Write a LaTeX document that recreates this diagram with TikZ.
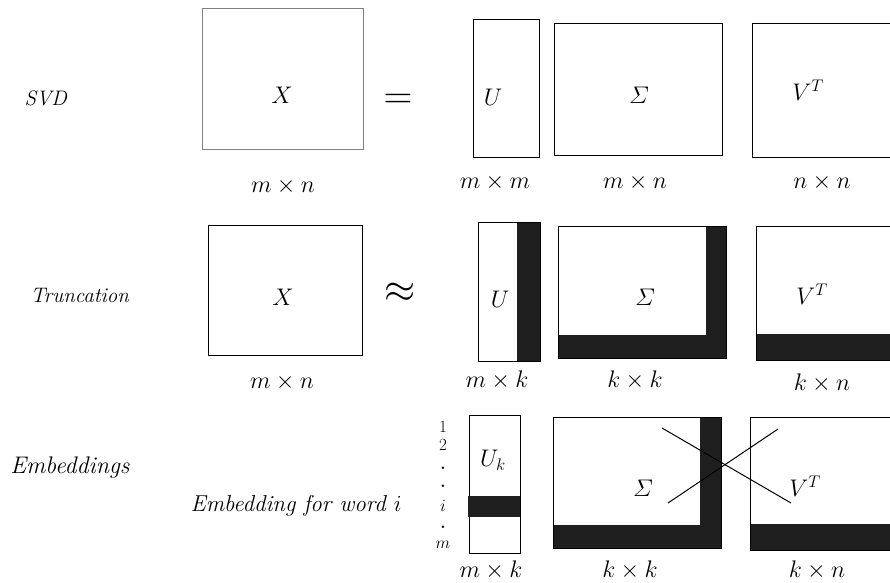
\RequirePackage{fix-cm}
\documentclass[tikz,border=0pt]{standalone}
\usepackage{amsmath}
\begin{document}
\begin{tikzpicture}[x=1pt, y=-1pt,
    mat/.style={font=\fontsize{24}{28}\selectfont},
    rowname/.style={font=\fontsize{21}{25}\selectfont},
    rel/.style={font=\fontsize{40}{44}\selectfont},
    idx/.style={font=\fontsize{17}{20}\selectfont, inner sep=0pt},
    frame/.style={draw=black, line width=1pt},
    band/.style={fill=black!88}]
\useasboundingbox (0,0) rectangle (890,582);
\clip (0,0) rectangle (890,582);

% Row names
\node[rowname] (svd) at (46,98) {\textit{SVD}};
\node[rowname] (trunc) at (80,295) {\textit{Truncation}};
\node[rowname, font=\fontsize{24}{28}\selectfont] (emb) at (70,468) {\textit{Embeddings}};

% SVD row
\draw[frame, draw=gray] (202,8) rectangle (363,149);
\node[mat] (x1) at (282,95) {$X$};
\node[mat] (x1dim) at (283,186) {$m \times n$};
\node[rel] (eq) at (398,101) {$=$};
\draw[frame] (473,19) rectangle (539,157);
\node[mat] (u1) at (493,97) {$U$};
\draw[frame] (554,23) rectangle (722,155);
\node[mat] (s1) at (639,95) {$\varSigma$};
\draw[frame] (752,23) rectangle (900,157);
\node[mat] (v1) at (808,90) {$V^T$};
\node[mat] (u1dim) at (495,182) {$m \times m$};
\node[mat] (s1dim) at (635,182) {$m \times n$};
\node[mat] (v1dim) at (822,182) {$n \times n$};

% Truncation row
\draw[frame] (208,225) rectangle (362,355);
\node[mat] (x2) at (283,297) {$X$};
\node[mat] (x2dim) at (282,382) {$m \times n$};
\node[rel] (approx) at (400,293) {$\approx$};
\fill[band] (517,222) rectangle (540,361);
\draw[frame] (478,222) rectangle (540,361);
\node[mat] (u2) at (500,299) {$U$};
\fill[band] (706,226) rectangle (726,358);
\fill[band] (558,335) rectangle (726,358);
\draw[frame] (558,226) rectangle (726,358);
\node[mat] (s2) at (645,297) {$\varSigma$};
\fill[band] (756,334) rectangle (900,360);
\draw[frame] (756,226) rectangle (900,360);
\node[mat] (v2) at (812,294) {$V^T$};
\node[mat] (u2dim) at (497,380) {$m \times k$};
\node[mat] (s2dim) at (635,380) {$k \times k$};
\node[mat] (v2dim) at (822,383) {$k \times n$};

% Embeddings row
\node[rowname, font=\fontsize{23}{27}\selectfont] (word) at (296,506) {\textit{Embedding for word $i$}};
\node[idx] (i1) at (443,427) {$1$};
\node[idx] (i2) at (443,445) {$2$};
\node[idx] (d1) at (443,468) {\textbf{.}};
\node[idx] (d2) at (443,486) {\textbf{.}};
\node[idx] (ii) at (443,506) {$i$};
\node[idx] (d3) at (443,527) {\textbf{.}};
\node[idx] (im) at (443,545) {$m$};
\draw[frame] (469,415) rectangle (520,553);
\fill[band] (468,496) rectangle (520,517);
\node[mat] (u3) at (493,460) {$U_k$};
\fill[band] (700,417) rectangle (721,548);
\fill[band] (553,525) rectangle (721,548);
\draw[frame] (553,417) rectangle (721,548);
\node[mat] (s3) at (643,488) {$\varSigma$};
\fill[band] (750,524) rectangle (900,550);
\draw[frame] (750,417) rectangle (900,550);
\node[mat] (v3) at (805,486) {$V^T$};
\coordinate (ca) at (662,428);
\coordinate (cb) at (791,503);
\coordinate (cc) at (668,503);
\coordinate (cd) at (778,429);
\draw[line width=1pt] (ca) -- (cb);
\draw[line width=1pt] (cc) -- (cd);
\node[mat] (u3dim) at (491,570) {$m \times k$};
\node[mat] (s3dim) at (630,570) {$k \times k$};
\node[mat] (v3dim) at (817,570) {$k \times n$};
\end{tikzpicture}
\end{document}
